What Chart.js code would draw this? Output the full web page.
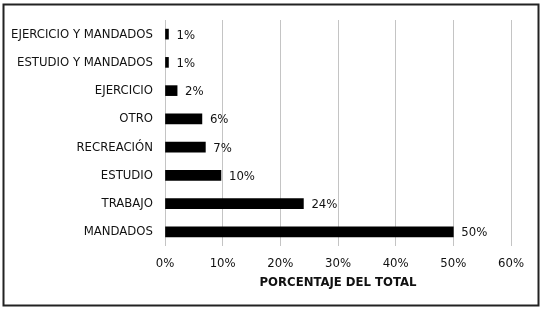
<!DOCTYPE html>
<html>
<head>
<meta charset="utf-8">
<script src="https://cdn.jsdelivr.net/npm/chart.js@4"></script>
<style>
  html, body { margin: 0; padding: 0; background: #fff; }
  #wrap { width: 542px; height: 312px; }
</style>
</head>
<body>
<div id="wrap"><canvas id="chart" width="542" height="312"></canvas></div>
<script>
// categories, top to bottom
const categories = ['EJERCICIO Y MANDADOS', 'ESTUDIO Y MANDADOS', 'EJERCICIO', 'OTRO', 'RECREACIÓN', 'ESTUDIO', 'TRABAJO', 'MANDADOS'];
// share of total, in percent
const shares = [0.6, 0.6, 2.1, 6.4, 7.0, 9.7, 24.0, 50.0];
// labels printed next to each bar
const shareLabels = ['1%', '1%', '2%', '6%', '7%', '10%', '24%', '50%'];
const xTicks = [0, 10, 20, 30, 40, 50, 60];
const xTitle = 'PORCENTAJE DEL TOTAL';

const fontFamily = '"DejaVu Sans Condensed", "DejaVu Sans", sans-serif';

// white background + outer frame
const framePlugin = {
    id: 'frame',
    beforeDraw(chart) {
        const ctx = chart.ctx;
        ctx.save();
        ctx.fillStyle = '#fff';
        ctx.fillRect(0, 0, chart.width, chart.height);
        ctx.strokeStyle = '#222';
        ctx.lineWidth = 2;
        ctx.strokeRect(3.5, 4.5, 535, 301);
        ctx.restore();
    }
};

// value labels to the right of each bar
const barLabels = {
    id: 'barLabels',
    afterDatasetsDraw(chart) {
        const ctx = chart.ctx;
        const meta = chart.getDatasetMeta(0);
        ctx.save();
        ctx.font = '13px ' + fontFamily;
        ctx.fillStyle = '#111';
        ctx.textAlign = 'left';
        ctx.textBaseline = 'middle';
        meta.data.forEach((bar, i) => {
            ctx.fillText(shareLabels[i], bar.x + 8, bar.y + 1);
        });
        ctx.restore();
    }
};

new Chart(document.getElementById('chart').getContext('2d'), {
    type: 'bar',
    data: {
        labels: categories,
        datasets: [{
            data: shares,
            backgroundColor: '#000',
            borderWidth: 0,
            barThickness: 10
        }]
    },
    options: {
        indexAxis: 'y',
        responsive: false,
        animation: false,
        layout: { padding: { top: 20, right: 31, bottom: 0, left: 0 } },
        plugins: {
            legend: { display: false },
            tooltip: { enabled: false }
        },
        scales: {
            x: {
                min: 0,
                max: 60,
                afterBuildTicks: (scale) => { scale.ticks = xTicks.map(v => ({ value: v })); },
                afterFit: (scale) => { scale.height = 66; },
                border: { display: false },
                grid: { color: '#c4c4c4', lineWidth: 1, drawTicks: false },
                ticks: {
                    padding: 10,
                    color: '#111',
                    font: { family: fontFamily, size: 13 },
                    callback: (v) => v + '%'
                },
                title: {
                    display: true,
                    text: xTitle,
                    color: '#111',
                    font: { family: fontFamily, size: 13, weight: 'bold' },
                    padding: { top: 0, bottom: 22 }
                }
            },
            y: {
                afterFit: (scale) => { scale.width = 165; },
                border: { display: false },
                grid: { display: false, drawTicks: false },
                ticks: {
                    padding: 12,
                    color: '#111',
                    font: { family: fontFamily, size: 13 }
                }
            }
        }
    },
    plugins: [framePlugin, barLabels]
});
</script>
</body>
</html>
